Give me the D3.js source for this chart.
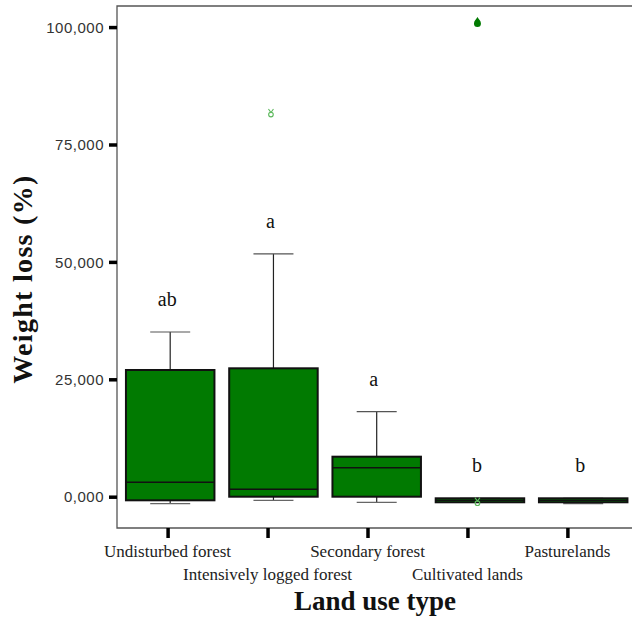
<!DOCTYPE html>
<html>
<head>
<meta charset="utf-8">
<script src="https://cdn.jsdelivr.net/npm/d3@7"></script>
<style>
  html, body { margin: 0; padding: 0; background: #fff; }
  svg { display: block; }
</style>
</head>
<body>
<script>
// Weight loss by land use type — box plot summary per category
const categories = ["Undisturbed forest", "Intensively logged forest", "Secondary forest", "Cultivated lands", "Pasturelands"];
const whiskerLow  = [-1490,  -770, -1200, -1190, -1490];
const q1          = [ -770,     0,     0, -1190, -1190];
const medians     = [ 3070,  1575,  6175,  -770,  -770];
const q3          = [26980, 27340,  8520,  -340,  -340];
const whiskerHigh = [35070, 51700, 18100,  -340,  -340];
const groupLetters = ["ab", "a", "a", "b", "b"];
// outliers: category index, value, kind ("o" = outlier, "e" = extreme)
const outlierCat   = [1, 3, 3];
const outlierValue = [81700, 101000, -1060];
const outlierKind  = ["o", "e", "o"];
const yTickValues = [0, 25000, 50000, 75000, 100000];
const yTickLabels = ["0,000", "25,000", "50,000", "75,000", "100,000"];

const W = 632, H = 624;
const frame = { left: 117, top: 6, bottom: 528, right: 640 };

const svg = d3.select("body").append("svg").attr("width", W).attr("height", H);

const y = d3.scaleLinear().domain([-6665, 104490]).range([frame.bottom, frame.top]);
// box centres and axis ticks
const xBox = d3.scalePoint().domain(categories).range([170.2, 583.2]);
const xAxisPos = d3.scalePoint().domain(categories).range([167.6, 567.4]);
const boxW = 88.5, capW = 40;

// frame (left, top, bottom)
svg.append("path")
  .attr("d", `M${frame.right},${frame.top}H${frame.left}V${frame.bottom}H${frame.right}`)
  .attr("fill", "none").attr("stroke", "#555").attr("stroke-width", 1.3);

// y axis
const yAxis = d3.axisLeft(y).tickValues(yTickValues).tickFormat((d, i) => yTickLabels[i]).tickSize(8).tickPadding(5);
const gy = svg.append("g").attr("transform", `translate(${frame.left},0)`).call(yAxis);
gy.select(".domain").remove();
gy.selectAll(".tick line").attr("stroke", "#000").attr("stroke-width", 3.5);
gy.selectAll(".tick text").attr("fill", "#333").attr("font-family", "Liberation Sans, Arial, sans-serif")
  .attr("font-size", 15).attr("letter-spacing", 0.5).attr("dy", "0.34em");

// x axis
const xAxis = d3.axisBottom(xAxisPos).tickSize(10).tickFormat("");
const gx = svg.append("g").attr("transform", `translate(0,${frame.bottom})`).call(xAxis);
gx.select(".domain").remove();
gx.selectAll(".tick line").attr("stroke", "#000").attr("stroke-width", 3.5);

svg.append("g").selectAll("text").data(categories).join("text")
  .attr("x", d => xAxisPos(d))
  .attr("y", (d, i) => i % 2 === 0 ? 557 : 580)
  .attr("text-anchor", "middle")
  .attr("font-family", "Liberation Serif, Times New Roman, serif")
  .attr("font-size", 17).attr("fill", "#222")
  .text(d => d);

// boxes
const boxes = svg.append("g").selectAll("g").data(categories).join("g");
// whiskers
boxes.append("line")
  .attr("x1", d => xBox(d)).attr("x2", d => xBox(d))
  .attr("y1", (d, i) => y(whiskerHigh[i])).attr("y2", (d, i) => y(whiskerLow[i]))
  .attr("stroke", "#222").attr("stroke-width", 1.2);
boxes.append("line")
  .attr("x1", d => xBox(d) - capW / 2).attr("x2", d => xBox(d) + capW / 2)
  .attr("y1", (d, i) => y(whiskerHigh[i])).attr("y2", (d, i) => y(whiskerHigh[i]))
  .attr("stroke", "#555").attr("stroke-width", 1.2);
boxes.append("line")
  .attr("x1", d => xBox(d) - capW / 2).attr("x2", d => xBox(d) + capW / 2)
  .attr("y1", (d, i) => y(whiskerLow[i])).attr("y2", (d, i) => y(whiskerLow[i]))
  .attr("stroke", "#666").attr("stroke-width", 1.2);
// box body
boxes.append("rect")
  .attr("x", d => xBox(d) - boxW / 2).attr("width", boxW)
  .attr("y", (d, i) => y(q3[i])).attr("height", (d, i) => Math.max(0, y(q1[i]) - y(q3[i])))
  .attr("fill", "#017a01").attr("stroke", "#111").attr("stroke-width", 2);
// median
boxes.append("line")
  .attr("x1", d => xBox(d) - boxW / 2).attr("x2", d => xBox(d) + boxW / 2)
  .attr("y1", (d, i) => y(medians[i])).attr("y2", (d, i) => y(medians[i]))
  .attr("stroke", "#111").attr("stroke-width", 1.5);

// significance letters
svg.append("g").selectAll("text").data(categories).join("text")
  .attr("x", d => xBox(d) - 3)
  .attr("y", (d, i) => y(whiskerHigh[i]) - 26)
  .attr("text-anchor", "middle")
  .attr("font-family", "Liberation Serif, Times New Roman, serif")
  .attr("font-size", 20).attr("fill", "#111")
  .text((d, i) => groupLetters[i]);

// outliers
const outG = svg.append("g");
outlierValue.forEach((v, i) => {
  const cx = xBox(categories[outlierCat[i]]) - 2.5;
  const cy = y(v);
  if (outlierKind[i] === "e") {
    outG.append("path")
      .attr("d", `M${cx},${cy - 5.5} C${cx + 1},${cy - 3.5} ${cx + 3.5},${cy - 2} ${cx + 3.5},${cy + 1} A3.5,3.5 0 1 1 ${cx - 3.5},${cy + 1} C${cx - 3.5},${cy - 2} ${cx - 1},${cy - 3.5} ${cx},${cy - 5.5}Z`)
      .attr("fill", "#017a01");
  } else {
    outG.append("circle").attr("cx", cx).attr("cy", cy + 1.5).attr("r", 2.3)
      .attr("fill", "none").attr("stroke", "#5cb85c").attr("stroke-width", 1.1);
    outG.append("path")
      .attr("d", `M${cx - 2.5},${cy - 4} L${cx},${cy - 0.5} L${cx + 2.5},${cy - 4}`)
      .attr("fill", "none").attr("stroke", "#5cb85c").attr("stroke-width", 1.1);
  }
});

// axis titles
svg.append("text")
  .attr("transform", `translate(32,279) rotate(-90)`)
  .attr("text-anchor", "middle")
  .attr("font-family", "Liberation Serif, Times New Roman, serif")
  .attr("font-weight", "bold").attr("font-size", 28).attr("letter-spacing", 1.3)
  .attr("fill", "#111")
  .text("Weight loss (%)");
svg.append("text")
  .attr("x", 375).attr("y", 610)
  .attr("text-anchor", "middle")
  .attr("font-family", "Liberation Serif, Times New Roman, serif")
  .attr("font-weight", "bold").attr("font-size", 27)
  .attr("fill", "#111")
  .text("Land use type");
</script>
</body>
</html>
